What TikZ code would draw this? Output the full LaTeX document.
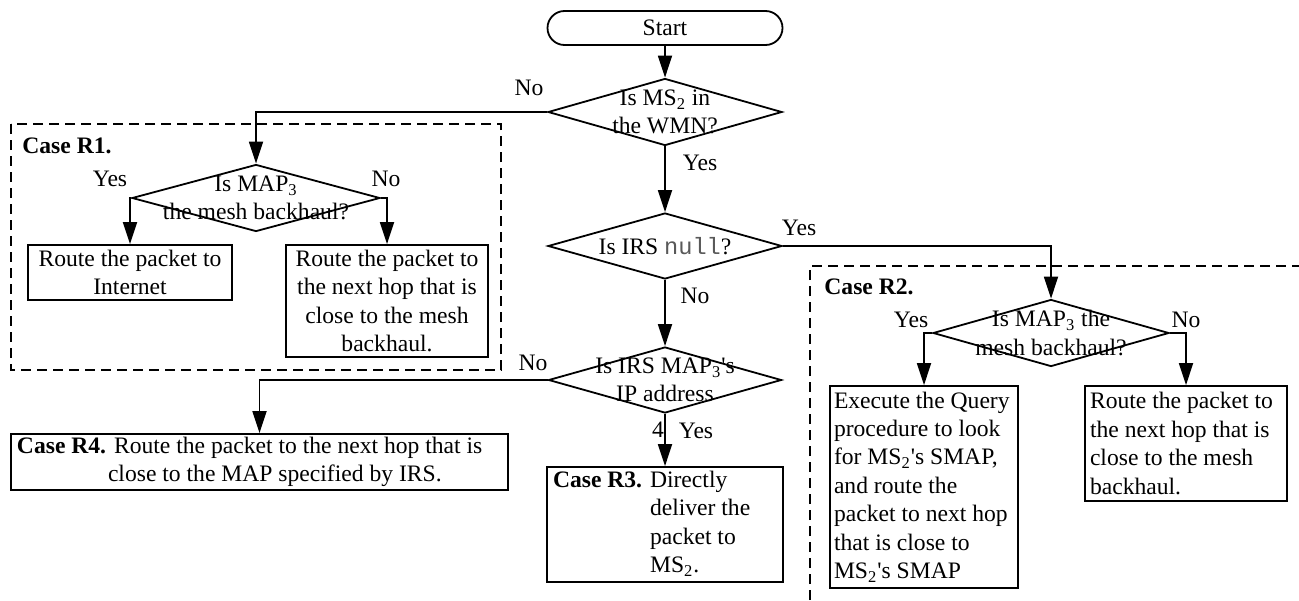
\documentclass[tikz,border=0pt]{standalone}
\usepackage{fontspec}
\setmainfont{Liberation Serif}
\setmonofont{Liberation Mono}
\usetikzlibrary{arrows.meta,positioning,shapes.geometric,calc}

\begin{document}
\begin{tikzpicture}[x=0.5pt, y=0.5pt, font=\fontsize{11.8}{14.2}\selectfont]
\tikzset{basicbox/.style={draw=black, line width=0.9pt, fill=white, text=black, inner sep=0pt}, terminal/.style={basicbox, rounded corners=8.5pt, minimum width=117.5pt, minimum height=17pt}, decision/.style={draw=black, line width=0.9pt, diamond, inner sep=0pt}, decisiontext/.style={align=center, inner sep=0pt}, answer/.style={inner sep=0pt}, casebox/.style={draw=black, line width=0.7pt, dash pattern=on 5pt off 3pt}, arrowstyle/.style={-{Triangle[length=11pt, width=7pt]}, line width=0.9pt, black}}
\useasboundingbox (0,0) rectangle (1299,-600);
\node[terminal] (start) at (665,-28) {Start};
\node[decision, minimum width=117pt, minimum height=33.5pt] (inwmn) at (665,-112) {};
\node[decisiontext] (inwmntext) at (inwmn) {Is MS\textsubscript{2} in\\the WMN?};
\node[decision, minimum width=117pt, minimum height=33pt] (irsnull) at (665,-246) {};
\node[decisiontext] (irsnulltext) at (irsnull) {Is IRS {\ttfamily\color{black!65}null}?};
\node[decision, minimum width=116.5pt, minimum height=33pt] (irsmap) at (665,-380) {};
\node[decisiontext] (irsmaptext) at (irsmap) {Is IRS MAP\textsubscript{3}\textquotesingle s\\IP address};
\draw[casebox] (11,-124) rectangle (501,-370);
\node[anchor=west, inner sep=0pt] (caseonetitle) at (22,-146) {\textbf{Case R1.}};
\node[decision, minimum width=124pt, minimum height=33.5pt] (oneback) at (256,-198) {};
\node[decisiontext] (onebacktext) at (oneback) {Is MAP\textsubscript{3}\\the mesh backhaul?};
\node[basicbox, align=center, minimum width=102pt, minimum height=27.5pt] (internet) at (130,-272.5) {Route the packet to\\Internet};
\node[basicbox, align=center, minimum width=101pt, minimum height=56pt] (onenexthop) at (387,-301) {Route the packet to\\the next hop that is\\close to the mesh\\backhaul.};
\draw[casebox] (810,-600) -- (810,-266) -- (1299,-266);
\node[anchor=west, inner sep=0pt] (casetwotitle) at (824,-287) {\textbf{Case R2.}};
\node[decision, minimum width=118pt, minimum height=33.5pt] (twoback) at (1051,-333) {};
\node[decisiontext] (twobacktext) at (twoback) {Is MAP\textsubscript{3} the\\mesh backhaul?};
\node[basicbox, align=flush left, text width=90pt, inner xsep=2pt, minimum height=101pt] (query) at (924,-487) {Execute the Query\\procedure to look\\for MS\textsubscript{2}\textquotesingle s SMAP,\\and route the\\packet to next hop\\that is close to\\MS\textsubscript{2}\textquotesingle s SMAP};
\node[basicbox, align=flush left, text width=96pt, inner xsep=2.5pt, minimum height=57.5pt] (twonexthop) at (1186,-443.5) {Route the packet to\\the next hop that is\\close to the mesh\\backhaul.};
\node[basicbox, align=flush left, text width=112pt, inner xsep=3pt, minimum height=57.5pt] (deliver) at (665,-524.5) {\begin{tabular}{@{}l@{ }l@{}}\textbf{Case R3.} & Directly\\ & deliver the\\ & packet to\\ & MS\textsubscript{2}.\end{tabular}};
\node[basicbox, align=flush left, text width=242.5pt, inner xsep=3pt, minimum height=28pt] (nexthopirs) at (259.5,-462) {\textbf{Case R4.} Route the packet to the next hop that is\\\hspace*{45.5pt}close to the MAP specified by IRS.};
\node[answer] (inwmnno) at (529,-88) {No};
\node[answer] (inwmnyes) at (700,-163) {Yes};
\node[answer] (irsnullyes) at (799,-228) {Yes};
\node[answer] (irsnullno) at (695,-296) {No};
\node[answer] (irsmapno) at (533,-363) {No};
\node[answer] (irsmapfour) at (658,-430) {4};
\node[answer] (irsmapyes) at (696,-431) {Yes};
\node[answer] (onebackyes) at (110,-179) {Yes};
\node[answer] (onebackno) at (386,-179) {No};
\node[answer] (twobackyes) at (911,-320) {Yes};
\node[answer] (twobackno) at (1186,-320) {No};
\draw[arrowstyle] (start.south) -- (inwmn.north);
\draw[arrowstyle] (inwmn.west) -| (oneback.north);
\draw[arrowstyle] (inwmn.south) -- (irsnull.north);
\draw[arrowstyle] (irsnull.east) -| (twoback.north);
\draw[arrowstyle] (irsnull.south) -- (irsmap.north);
\draw[arrowstyle] (irsmap.west) -| (nexthopirs.north);
\draw[arrowstyle] (irsmap.south) -- (deliver.north);
\draw[arrowstyle] (oneback.west) -| (internet.north);
\draw[arrowstyle] (oneback.east) -| (onenexthop.north);
\draw[arrowstyle] (twoback.west) -| (query.north);
\draw[arrowstyle] (twoback.east) -| (twonexthop.north);
\end{tikzpicture}
\end{document}
